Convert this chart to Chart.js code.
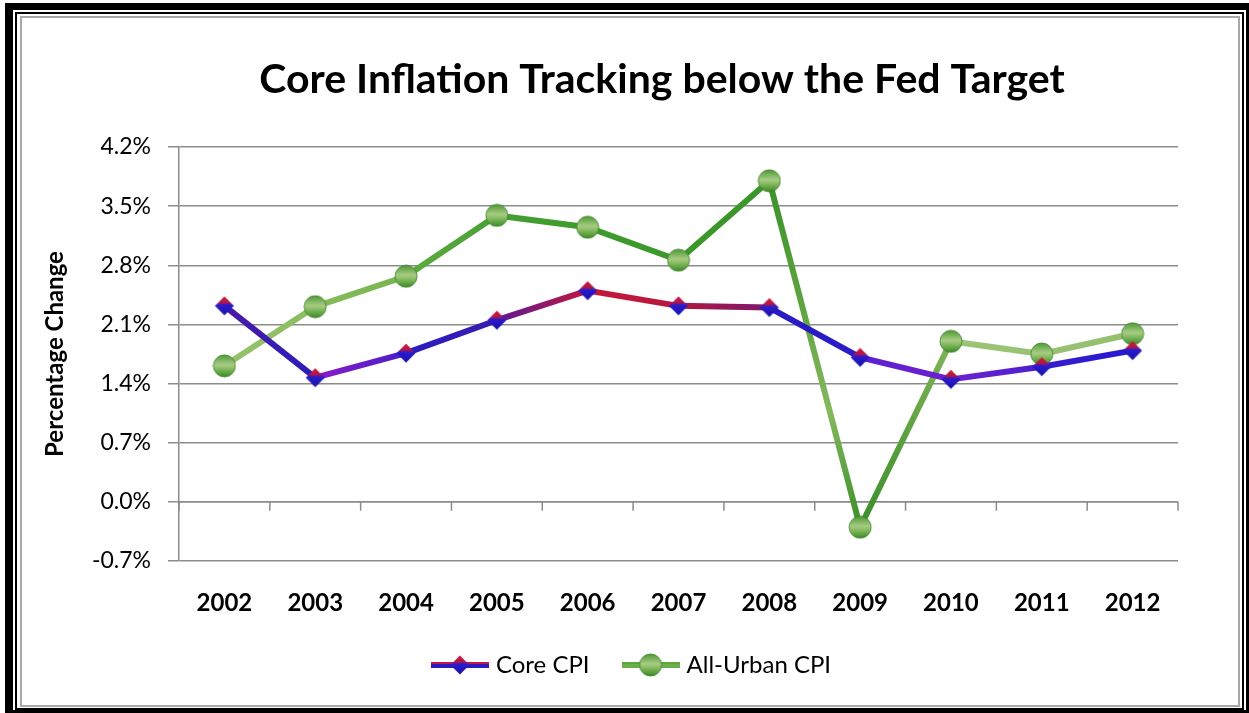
<!DOCTYPE html>
<html><head><meta charset="utf-8">
<script src="https://cdn.jsdelivr.net/npm/chart.js@4"></script>
<style>
html,body{margin:0;padding:0;background:#fff;width:1249px;height:713px;overflow:hidden}
#wrap{position:absolute;left:0;top:0;width:1249px;height:713px}
.fr{position:absolute;box-sizing:border-box;pointer-events:none}
</style></head><body>
<div id="wrap"><canvas id="c" width="1249" height="713"></canvas></div>
<div class="fr" style="left:5px;top:3px;width:1244px;height:710px;border-style:solid;border-color:#000;border-width:7px 3px 3px 8px"></div>
<div class="fr" style="left:15px;top:12px;width:1229px;height:698px;border:2px solid #000"></div>
<div class="fr" style="left:20px;top:16px;width:1220px;height:691px;border:2px solid #a8a8a8"></div>
<script>
const years = ['2002','2003','2004','2005','2006','2007','2008','2009','2010','2011','2012'];
const coreCPI = [2.32, 1.47, 1.76, 2.15, 2.50, 2.32, 2.30, 1.71, 1.45, 1.60, 1.79];
const allUrbanCPI = [1.61, 2.31, 2.67, 3.39, 3.25, 2.86, 3.80, -0.30, 1.90, 1.75, 1.99];
const yTickValues = [-0.7, 0.0, 0.7, 1.4, 2.1, 2.8, 3.5, 4.2];

// per-segment colour styling (start -> end)
const coreSegColors = [
  ['#4a1aa8','#2a1cb8'], ['#8a1cc8','#4a1ec8'], ['#2a1cc0','#3a1cb0'],
  ['#5a1a98','#c01840'], ['#c41838','#b81840'], ['#b01840','#7a1870'],
  ['#2a1cc0','#2a1cc8'], ['#5a20d0','#7020d0'], ['#7020d0','#4a20d0'],
  ['#3a1cd0','#2418d0']
];
const urbanSegColors = [
  ['#95c26c','#8cbd62'], ['#88bb5c','#78b450'], ['#5eaa40','#48a035'],
  ['#42a030','#3e9a2c'], ['#3e9a2c','#3c982b'], ['#3c982b','#3a962a'],
  ['#3a922a','#5ca23e','#86b85e','#3a8e2a'], ['#3a8e2a','#80b458'], ['#9cc476','#98c272'],
  ['#98c272','#94c06e']
];

const ctx2d = document.getElementById('c').getContext('2d');
function segGrad(sc, list) {
  const cols = list[sc.p0DataIndex];
  const g = ctx2d.createLinearGradient(sc.p0.x, sc.p0.y, sc.p1.x, sc.p1.y);
  cols.forEach((c, i) => g.addColorStop(i / (cols.length - 1), c));
  return g;
}

function makeDiamond() {
  const c = document.createElement('canvas'); c.width = 22; c.height = 22;
  const x = c.getContext('2d');
  const g = x.createLinearGradient(0, 2, 0, 20);
  g.addColorStop(0, '#d01830'); g.addColorStop(0.32, '#b01848');
  g.addColorStop(0.45, '#2a1cd0'); g.addColorStop(1, '#1a12a8');
  x.fillStyle = g;
  x.beginPath(); x.moveTo(11, 1.5); x.lineTo(20.5, 11); x.lineTo(11, 20.5); x.lineTo(1.5, 11); x.closePath(); x.fill();
  return c;
}
function makeCircle() {
  const c = document.createElement('canvas'); c.width = 24; c.height = 24;
  const x = c.getContext('2d');
  const g = x.createLinearGradient(0, 1, 0, 23);
  g.addColorStop(0, '#4e9a36'); g.addColorStop(0.45, '#a8cc84'); g.addColorStop(0.6, '#8cbe66'); g.addColorStop(1, '#3a8a26');
  x.fillStyle = g;
  x.beginPath(); x.arc(12, 12, 11, 0, Math.PI * 2); x.fill();
  x.strokeStyle = 'rgba(60,130,40,0.8)'; x.lineWidth = 1; x.stroke();
  return c;
}
const diamondImg = makeDiamond();
const circleImg = makeCircle();

function makeLegendImg(marker, lineTop, lineBot) {
  const c = document.createElement('canvas'); c.width = 58; c.height = 24;
  const x = c.getContext('2d');
  x.fillStyle = lineBot; x.fillRect(0, 9, 58, 6);
  x.fillStyle = lineTop; x.fillRect(0, 9, 58, 2);
  x.drawImage(marker, 29 - marker.width / 2, 12 - marker.height / 2);
  return c;
}
const coreLegendImg = makeLegendImg(diamondImg, '#c01840', '#2a1cc0');
const urbanLegendImg = makeLegendImg(circleImg, '#5aa83c', '#6cae4c');

const zeroAxisTicks = {
  id: 'zeroAxisTicks',
  beforeDatasetsDraw(chart) {
    const xs = chart.scales.x, ys = chart.scales.y, c = chart.ctx;
    const y0 = ys.getPixelForValue(0);
    const step = xs.getPixelForValue(1) - xs.getPixelForValue(0);
    c.save(); c.strokeStyle = '#8c8c8c'; c.lineWidth = 1.5;
    c.beginPath(); c.moveTo(chart.chartArea.left, y0); c.lineTo(chart.chartArea.right, y0);
    for (let i = 0; i <= years.length; i++) {
      const xp = xs.getPixelForValue(0) + (i - 0.5) * step;
      c.moveTo(xp, y0); c.lineTo(xp, y0 + 9);
    }
    c.stroke(); c.restore();
  }
};
const boxShift = {
  id: 'boxShift',
  afterLayout(chart) {
    chart.legend.left += 29.5; chart.legend.right += 29.5;
    chart.titleBlock.left += 58; chart.titleBlock.right += 58;
  }
};

new Chart(document.getElementById('c'), {
  type: 'line',
  data: {
    labels: years,
    datasets: [
      { label: 'Core CPI', data: coreCPI, borderWidth: 6, borderColor: '#2a1cc0',
        segment: { borderColor: sc => segGrad(sc, coreSegColors) },
        pointStyle: diamondImg, pointRadius: 10, legendImg: coreLegendImg },
      { label: 'All-Urban CPI', data: allUrbanCPI, borderWidth: 6, borderColor: '#3c982b',
        segment: { borderColor: sc => segGrad(sc, urbanSegColors) },
        pointStyle: circleImg, pointRadius: 11, legendImg: urbanLegendImg }
    ]
  },
  options: {
    responsive: false, animation: false, devicePixelRatio: 1,
    events: [],
    layout: { padding: { left: 30, right: 71, top: 0, bottom: 26 } },
    plugins: {
      title: { display: true, text: 'Core Inflation Tracking below the Fed Target', color: '#000',
        font: { family: 'Lato', size: 41, weight: 'bold' }, padding: { top: 55, bottom: 42.8 } },
      legend: { position: 'bottom',
        labels: { usePointStyle: true, pointStyleWidth: 48, padding: 37, color: '#000',
          font: { family: 'Lato', size: 24 },
          generateLabels(chart) {
            const items = Chart.defaults.plugins.legend.labels.generateLabels(chart);
            items.forEach(it => { it.pointStyle = chart.data.datasets[it.datasetIndex].legendImg; });
            return items;
          } } },
      tooltip: { enabled: false }
    },
    scales: {
      x: { offset: true, grid: { display: false, drawTicks: false }, border: { display: false },
        ticks: { font: { family: 'Lato', size: 24, weight: 'bold' }, color: '#000', padding: 27.6, maxRotation: 0 },
        afterFit: s => { s.height = 55; } },
      y: { min: -0.7, max: 4.2,
        afterBuildTicks: s => { s.ticks = yTickValues.map(v => ({ value: v })); },
        afterFit: s => { s.width = 149; },
        ticks: { callback: v => Number(v).toFixed(1) + '%', font: { family: 'Lato', size: 23 }, color: '#000', padding: 17 },
        grid: { color: '#8c8c8c', lineWidth: 1.5, tickLength: 11 },
        border: { color: '#8c8c8c', width: 1.5 },
        title: { display: true, text: 'Percentage Change', color: '#000',
          font: { family: 'Lato', size: 24, weight: 'bold' }, padding: { top: 10.6, bottom: 0 } } }
    }
  },
  plugins: [zeroAxisTicks, boxShift]
});
</script>
</body></html>
